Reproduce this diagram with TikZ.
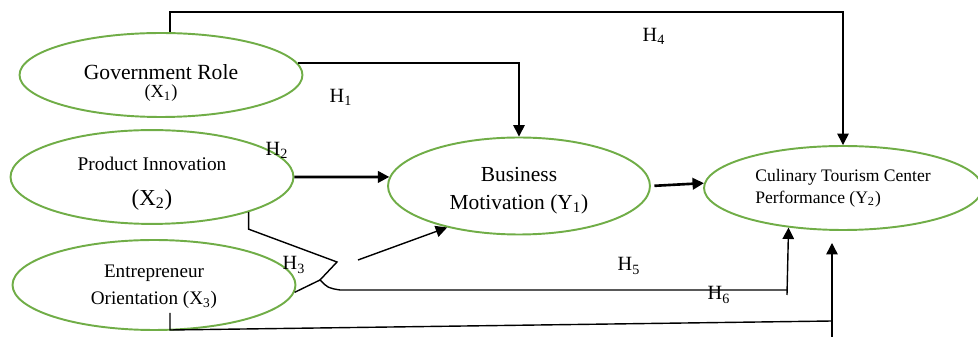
\documentclass[tikz,border=0pt]{standalone}
\usepackage{fontspec}
\setmainfont{Liberation Serif}
\usetikzlibrary{arrows.meta,shapes.geometric,positioning}
\definecolor{ovalgreen}{RGB}{112,173,71}

\begin{document}
\begin{tikzpicture}[x=0.02cm,y=-0.02cm,
  var/.style={ellipse,draw=ovalgreen,line width=1.1pt,inner sep=0pt,align=center},
  conn/.style={line width=0.8pt},
  conn arrow/.style={line width=0.8pt,-{Triangle[length=6.5pt,width=6.5pt]}},
  bold arrow/.style={line width=1.5pt,-{Triangle[length=6.5pt,width=6.5pt]}},
  hyp/.style={font=\fontsize{11.5pt}{13pt}\selectfont,inner sep=0pt}]
\useasboundingbox (0,0) rectangle (978,337);

% variables
\node[var,minimum width=5.66cm,minimum height=1.68cm,text height=28pt,font=\fontsize{12.3pt}{10.5pt}\selectfont] (gov) at (161,75) {Government Role\\{\fontsize{10.5pt}{10.5pt}\selectfont(X\textsubscript{1})}};
\node[var,minimum width=5.66cm,minimum height=1.82cm,text height=35pt,font=\fontsize{11pt}{19.8pt}\selectfont] (prod) at (152,177) {Product Innovation\\{\fontsize{13pt}{19.8pt}\selectfont(X\textsubscript{2})}};
\node[var,minimum width=5.66cm,minimum height=1.8cm,text height=25pt,font=\fontsize{10.9pt}{15.5pt}\selectfont] (entr) at (154,285) {Entrepreneur\\Orientation (X\textsubscript{3})};
\node[var,minimum width=5.24cm,minimum height=1.94cm,text height=29pt,font=\fontsize{12.2pt}{15.9pt}\selectfont] (bus) at (519,186) {Business\\Motivation (Y\textsubscript{1})};
\node[var,minimum width=5.56cm,minimum height=1.68cm,align=left,font=\fontsize{10pt}{12.5pt}\selectfont] (cul) at (843,188) {Culinary Tourism Center\\Performance (Y\textsubscript{2})};

% free ends
\coordinate (j1) at (320,280);
\coordinate (j2) at (358,260);
\coordinate (j3) at (337,262);
\coordinate (j4) at (340,290);
\coordinate (h5foot) at (787,295);
\coordinate (h6a) at (170,313);
\coordinate (h6b) at (170,330);
\coordinate (h6c) at (832,321);
\coordinate (h6foot) at (832,340);
\coordinate (h6tip) at (832,243);

% H4
\draw[conn arrow] (gov.78) -- ++(0,-20) -| (cul.north);
% H1
\draw[conn arrow] (gov.5) -| (bus.north);
% H2
\draw[bold arrow] (prod.east) -- (bus.176);
\draw[bold arrow,shorten <=2pt] (bus.east) -- (cul.178);
% H3
\draw[conn] (entr.357) -- (j1);
\draw[conn arrow] (j2) -- (bus.210);
% H5
\draw[conn] (prod.340) -- ++(0,17) -- (j3) -- (j1) .. controls (328,288) .. (j4) -- (j4 -| h5foot);
\draw[conn arrow] (h5foot) -- (cul.216);
% H6
\draw[conn] (h6a) -- (h6b) -- (h6c);
\draw[conn arrow] (h6foot) -- (h6tip);

% labels
\node[hyp] (h1) at (341,97) {H\textsubscript{1}};
\node[hyp] (h2) at (277,150) {H\textsubscript{2}};
\node[hyp] (h3) at (294,265) {H\textsubscript{3}};
\node[hyp] (h4) at (654,36) {H\textsubscript{4}};
\node[hyp] (h5) at (629,266) {H\textsubscript{5}};
\node[hyp] (h6) at (719,295) {H\textsubscript{6}};
\end{tikzpicture}
\end{document}
